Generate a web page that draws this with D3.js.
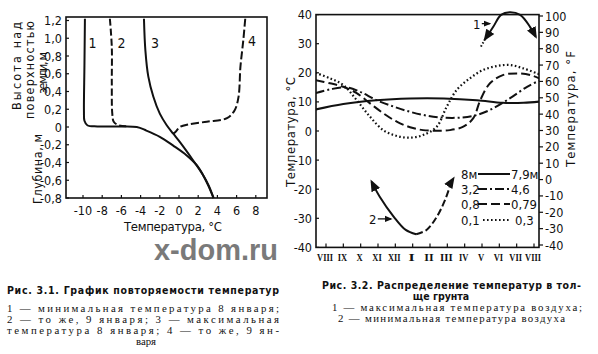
<!DOCTYPE html>
<html>
<head>
<meta charset="utf-8">
<script src="https://cdn.jsdelivr.net/npm/d3@7"></script>
<style>
  body { margin: 0; background: #fff; }
  svg { display: block; }
  .tick-label { font-family: "DejaVu Sans Condensed", "Liberation Sans", sans-serif; font-size: 12.5px; fill: #111; }
  .title-label { font-family: "DejaVu Sans Condensed", "Liberation Sans", sans-serif; font-size: 13px; fill: #111; }
  .caption { font-family: "Liberation Serif", "DejaVu Serif", serif; font-size: 10.8px; fill: #111; }
  .caption-bold { font-family: "DejaVu Sans Condensed", sans-serif; font-size: 10.5px; font-weight: bold; fill: #111; }
  .month { font-family: "Liberation Serif", "DejaVu Serif", serif; font-size: 10.5px; font-weight: bold; fill: #111; }
</style>
</head>
<body>
<div id="chart"></div>
<script>
// Fig 3.1: temperature (°C) vs height / depth (m)
const leftXTicks = [-10, -8, -6, -4, -2, 0, 2, 4, 6, 8];
const leftYTicks = [1.2, 1.0, 0.8, 0.6, 0.4, 0.2, 0, -0.2, -0.4, -0.6, -0.8];

// [temperature, height]
const curve1 = [[-9.8, 1.22], [-9.85, 0.69], [-9.9, 0.17], [-9.85, 0.07], [-9.55, 0.02], [-8.5, 0.006], [-6.5, 0.005], [-4.4, 0], [-3.4, -0.04], [-2.0, -0.11], [-0.6, -0.21], [0.8, -0.32], [1.85, -0.43], [2.5, -0.54], [3.05, -0.66], [3.6, -0.8]];
const curve2 = [[-7.2, 1.22], [-7.0, 0.9], [-7.0, 0.5], [-6.95, 0.15], [-6.8, 0.06], [-6.3, 0.02], [-5.5, 0.008]];
const curve3 = [[-3.65, 1.22], [-3.5, 0.86], [-3.2, 0.57], [-2.67, 0.34], [-2.0, 0.15], [-1.28, 0.02], [-0.6, -0.075], [0.1, -0.17], [1.5, -0.38], [2.5, -0.54], [3.1, -0.66], [3.6, -0.8]];
const curve4 = [[6.9, 1.22], [6.7, 0.98], [6.4, 0.68], [6.2, 0.34], [5.8, 0.19], [5.0, 0.1], [2.9, 0.06], [1.0, 0.03], [0.1, 0.0], [-0.4, -0.06], [-0.6, -0.075]];
const curveLabels = [['1', -9.0, 0.95], ['2', -6.0, 0.95], ['3', -2.5, 0.95], ['4', 7.6, 0.97]];

// Fig 3.2: soil temperature through the year
const months = ['VIII', 'IX', 'X', 'XI', 'XII', 'I', 'II', 'III', 'IV', 'V', 'VI', 'VII', 'VIII'];
const celsiusTicks = [40, 30, 20, 10, 0, -10, -20, -30, -40];
const fahrenheitTicks = [100, 90, 80, 70, 60, 50, 40, 30, 20, 10, 0, -10, -20, -30, -40];

// [month index, °C]
const depth8 = [[-0.6, 7.4], [1.0, 9.3], [2.9, 10.6], [4.85, 11.2], [6.8, 11.2], [8.7, 10.6], [10.2, 9.7], [11.4, 9.7], [12.3, 10.1]];
const depth32 = [[-0.6, 13], [0.23, 14.3], [1.2, 15], [1.96, 13.5], [2.92, 10.6], [3.89, 8.4], [4.85, 6.6], [5.8, 5.3], [6.77, 4.6], [7.73, 4.6], [8.7, 5.5], [9.65, 7.8], [10.6, 11.2], [11.6, 15.2], [12.3, 17.3]];
const depth08 = [[-0.6, 17.5], [0.23, 16.4], [1.0, 15.2], [1.77, 13], [2.54, 9.5], [3.3, 6.1], [4.08, 3.2], [4.85, 1.3], [5.6, 0.3], [6.4, 0.1], [7.15, 0.3], [7.92, 1.5], [8.5, 4.4], [8.9, 10.6], [9.46, 16.4], [10.2, 19.2], [11.0, 19.8], [11.8, 19.2], [12.3, 18.1]];
const depth01 = [[-0.6, 20], [0.23, 18.1], [1.0, 15.8], [1.77, 10.6], [2.54, 4.9], [3.3, 0.3], [4.08, -1.7], [4.85, -2.3], [5.6, -1.4], [6.39, 1.5], [6.96, 8.3], [7.54, 14.1], [8.3, 18.1], [9.08, 21], [9.85, 22.3], [10.6, 22.7], [11.4, 21.5], [12.3, 19.5]];
const airMaxLead = [[8.94, 29], [9.17, 31.5]];
const airMax = [[9.17, 31.5], [9.65, 35.8], [10.1, 39.9], [10.6, 40.8], [11.2, 39.9], [11.77, 35.8], [12.1, 32.4]];
const airMinSolid = [[2.63, -17.4], [3.1, -22.6], [3.9, -29.4], [4.6, -34], [5.2, -35.5]];
const airMinDashed = [[5.2, -35.5], [5.8, -34], [6.4, -29.4], [6.87, -23.7], [7.25, -17.4], [7.35, -16.3]];

const legendRows = [
    { left: '8м', right: '7,9м', dash: null },
    { left: '3,2', right: '4,6', dash: '9,3,2,3' },
    { left: '0,8', right: '0,79', dash: '9,4' },
    { left: '0,1', right: '0,3', dash: '1.6,2.4' }
];

const svg = d3.select('#chart').append('svg')
    .attr('width', 598)
    .attr('height', 354);

svg.append('rect').attr('width', 598).attr('height', 354).attr('fill', '#fff');

// ---------- Fig 3.1 ----------
const lBox = { left: 66, right: 267, top: 17, bottom: 198 };
const lx = d3.scaleLinear().domain([-10, 8]).range([83, 255.8]);
const ly = d3.scaleLinear().domain([-0.8, 1.2]).range([198, 20.5]);

const left = svg.append('g');

left.append('rect')
    .attr('x', lBox.left).attr('y', lBox.top)
    .attr('width', lBox.right - lBox.left).attr('height', lBox.bottom - lBox.top)
    .attr('fill', 'none').attr('stroke', '#111').attr('stroke-width', 1.6);

leftXTicks.forEach(t => {
    left.append('line')
        .attr('x1', lx(t)).attr('x2', lx(t))
        .attr('y1', lBox.bottom).attr('y2', lBox.bottom - 3)
        .attr('stroke', '#111').attr('stroke-width', 1.2);
    left.append('text')
        .attr('class', 'tick-label')
        .attr('x', lx(t)).attr('y', 215)
        .attr('text-anchor', 'middle')
        .text(t < 0 ? '-' + Math.abs(t) : t);
});

leftYTicks.forEach(v => {
    left.append('line')
        .attr('x1', lBox.left).attr('x2', lBox.left + 3)
        .attr('y1', ly(v)).attr('y2', ly(v))
        .attr('stroke', '#111').attr('stroke-width', 1.2);
    const lbl = v === 0 ? '0' : (v < 0 ? '-' : '') + Math.abs(v).toFixed(1).replace('.', ',');
    left.append('text')
        .attr('class', 'tick-label')
        .attr('x', 62).attr('y', ly(v) + 4.5)
        .attr('text-anchor', 'end')
        .text(lbl);
});

const lLine = d3.line()
    .x(d => lx(d[0]))
    .y(d => ly(d[1]))
    .curve(d3.curveCatmullRom.alpha(0.5));

[[curve1, null], [curve2, '7,3'], [curve3, null], [curve4, '8,3']].forEach(([pts, dash]) => {
    left.append('path')
        .datum(pts)
        .attr('d', lLine)
        .attr('fill', 'none')
        .attr('stroke', '#111')
        .attr('stroke-width', 2)
        .attr('stroke-dasharray', dash);
});

curveLabels.forEach(([txt, t, h]) => {
    left.append('text')
        .attr('class', 'title-label')
        .attr('x', lx(t)).attr('y', ly(h) + 5)
        .attr('text-anchor', 'middle')
        .style('font-size', '14px')
        .text(txt);
});

left.append('text')
    .attr('class', 'title-label')
    .attr('x', 173).attr('y', 231)
    .attr('text-anchor', 'middle')
    .attr('textLength', 98)
    .text('Температура, °С');

// rotated axis titles: [text, baseline x, centre y, length]
[['Высота над', 21, 66, 88], ['поверхностью', 33.5, 70, 98], ['земли, м', 46.5, 73, 42], ['Глубина, м', 41.5, 169, 70]].forEach(([txt, x, y, len]) => {
    left.append('text')
        .attr('class', 'title-label')
        .attr('transform', `translate(${x},${y}) rotate(-90)`)
        .attr('text-anchor', 'middle')
        .attr('textLength', len)
        .attr('lengthAdjust', 'spacing')
        .style('font-size', '12.5px')
        .text(txt);
});

// ---------- Fig 3.2 ----------
const rBox = { left: 316, right: 539, top: 14.6, bottom: 247.4 };
const rx = d3.scaleLinear().domain([0, 12]).range([326, 534]);
const ry = d3.scaleLinear().domain([-40, 40]).range([247.4, 14.6]);
const ryF = d3.scaleLinear().domain([-40, 100]).range([245, 16]);

const right = svg.append('g');

right.append('rect')
    .attr('x', rBox.left).attr('y', rBox.top)
    .attr('width', rBox.right - rBox.left).attr('height', rBox.bottom - rBox.top)
    .attr('fill', 'none').attr('stroke', '#111').attr('stroke-width', 1.6);

months.forEach((m, i) => {
    right.append('line')
        .attr('x1', rx(i)).attr('x2', rx(i))
        .attr('y1', rBox.bottom).attr('y2', rBox.bottom - 4)
        .attr('stroke', '#111').attr('stroke-width', 1.2);
    right.append('text')
        .attr('class', 'month')
        .attr('x', rx(i) - 1).attr('y', 260.5)
        .attr('text-anchor', 'middle')
        .attr('textLength', 3.2 * m.length + 3)
        .attr('lengthAdjust', 'spacingAndGlyphs')
        .text(m);
});

celsiusTicks.forEach(v => {
    right.append('line')
        .attr('x1', rBox.left).attr('x2', rBox.left + 3)
        .attr('y1', ry(v)).attr('y2', ry(v))
        .attr('stroke', '#111').attr('stroke-width', 1.2);
    right.append('text')
        .attr('class', 'tick-label')
        .attr('x', 312).attr('y', ry(v) + 4.5)
        .attr('text-anchor', 'end')
        .text(v < 0 ? '-' + Math.abs(v) : v);
});

fahrenheitTicks.forEach(v => {
    right.append('line')
        .attr('x1', rBox.right).attr('x2', rBox.right + 4)
        .attr('y1', ryF(v)).attr('y2', ryF(v))
        .attr('stroke', '#111').attr('stroke-width', 1.2);
    right.append('text')
        .attr('class', 'tick-label')
        .attr('x', 545).attr('y', ryF(v) + 4.5)
        .attr('text-anchor', 'start')
        .text(v < 0 ? '-' + Math.abs(v) : v);
});

const rLine = d3.line()
    .x(d => rx(d[0]))
    .y(d => ry(d[1]))
    .curve(d3.curveCatmullRom.alpha(0.5));

svg.append('clipPath').attr('id', 'rclip')
    .append('rect')
    .attr('x', rBox.left).attr('y', rBox.top - 4)
    .attr('width', rBox.right - rBox.left).attr('height', rBox.bottom - rBox.top + 4);

const curves = right.append('g').attr('clip-path', 'url(#rclip)');

[[depth8, null], [depth32, '9,3,2,3'], [depth08, '9,4'], [depth01, '1.6,2.4']].forEach(([pts, dash]) => {
    curves.append('path')
        .datum(pts)
        .attr('d', rLine)
        .attr('fill', 'none')
        .attr('stroke', '#111')
        .attr('stroke-width', dash === '1.6,2.4' ? 2.2 : 2)
        .attr('stroke-dasharray', dash);
});

// arrow marker
svg.append('defs').append('marker')
    .attr('id', 'arrow')
    .attr('viewBox', '0 0 10 10')
    .attr('refX', 8).attr('refY', 5)
    .attr('markerWidth', 6).attr('markerHeight', 6)
    .attr('orient', 'auto-start-reverse')
    .append('path')
    .attr('d', 'M0,1 L10,5 L0,9 Z')
    .attr('fill', '#111');

curves.append('path')
    .datum(airMaxLead)
    .attr('d', rLine)
    .attr('fill', 'none').attr('stroke', '#111').attr('stroke-width', 2)
    .attr('stroke-dasharray', '1.5,2');

right.append('path')
    .datum(airMax)
    .attr('d', rLine)
    .attr('fill', 'none').attr('stroke', '#111').attr('stroke-width', 2)
    .attr('marker-start', 'url(#arrow)')
    .attr('marker-end', 'url(#arrow)');

right.append('path')
    .datum(airMinSolid)
    .attr('d', rLine)
    .attr('fill', 'none').attr('stroke', '#111').attr('stroke-width', 2)
    .attr('marker-start', 'url(#arrow)');

right.append('path')
    .datum(airMinDashed)
    .attr('d', rLine)
    .attr('fill', 'none').attr('stroke', '#111').attr('stroke-width', 2)
    .attr('stroke-dasharray', '7,3')
    .attr('marker-end', 'url(#arrow)');

// "1 →" and "2 →" pointers
[['1', 8.7, 36.9, 9.45], ['2', 2.7, -30.2, 3.75]].forEach(([txt, m, t, m2]) => {
    right.append('text')
        .attr('class', 'title-label')
        .attr('x', rx(m)).attr('y', ry(t) + 5)
        .attr('text-anchor', 'middle')
        .text(txt);
    right.append('line')
        .attr('x1', rx(m) + 5).attr('x2', rx(m2))
        .attr('y1', ry(t)).attr('y2', ry(t))
        .attr('stroke', '#111').attr('stroke-width', 1.3)
        .attr('marker-end', 'url(#arrow)');
});

// legend
const legendY = [174, 189, 204, 220];
legendRows.forEach((row, i) => {
    const y = legendY[i];
    right.append('text')
        .attr('class', 'title-label')
        .attr('x', 461).attr('y', y + 5)
        .text(row.left);
    right.append('line')
        .attr('x1', i === 3 ? 483 : 478).attr('x2', 510)
        .attr('y1', y).attr('y2', y)
        .attr('stroke', '#111').attr('stroke-width', 2)
        .attr('stroke-dasharray', row.dash);
    right.append('text')
        .attr('class', 'title-label')
        .attr('x', i === 3 ? 515 : 511).attr('y', y + 5)
        .text(row.right);
});

right.append('text')
    .attr('class', 'title-label')
    .attr('transform', 'translate(295,132) rotate(-90)')
    .attr('text-anchor', 'middle')
    .attr('textLength', 110)
    .text('Температура, °С');

right.append('text')
    .attr('class', 'title-label')
    .attr('transform', 'translate(575,109) rotate(-90)')
    .attr('text-anchor', 'middle')
    .attr('textLength', 116)
    .text('Температура, °F');

// watermark
svg.append('text')
    .attr('x', 216).attr('y', 260)
    .attr('text-anchor', 'middle')
    .style('font-family', '"Liberation Sans", Arial, sans-serif')
    .style('font-weight', 'bold')
    .style('font-size', '29px')
    .style('fill', '#7a7a7a')
    .text('x-dom.ru');

// captions: [text, x, baseline y, justified length, bold]
const capLeft = [
    ['Рис. 3.1. График повторяемости температур', 7, 294, 272, 'bold'],
    ['1 — минимальная температура 8 января;', 7, 312, 272, ''],
    ['2 — то же, 9 января; 3 — максимальная', 7, 323, 272, ''],
    ['температура 8 января; 4 — то же, 9 ян-', 7, 334, 272, ''],
    ['варя', 146, 345, 0, '']
];
const capRight = [
    ['Рис. 3.2. Распределение температур в тол-', 322, 289, 259, 'bold'],
    ['ще грунта', 441, 300, 0, 'bold'],
    ['1 — максимальная температура воздуха;', 332, 310.5, 250, ''],
    ['2 — минимальная температура воздуха', 338, 321.5, 227, '']
];

capLeft.concat(capRight).forEach(([txt, x, y, len, w]) => {
    const t = svg.append('text')
        .attr('class', w ? 'caption-bold' : 'caption')
        .attr('x', x).attr('y', y)
        .attr('text-anchor', len ? 'start' : 'middle')
        .text(txt);
    if (len) t.attr('textLength', len).attr('lengthAdjust', 'spacing');
});
</script>
</body>
</html>
